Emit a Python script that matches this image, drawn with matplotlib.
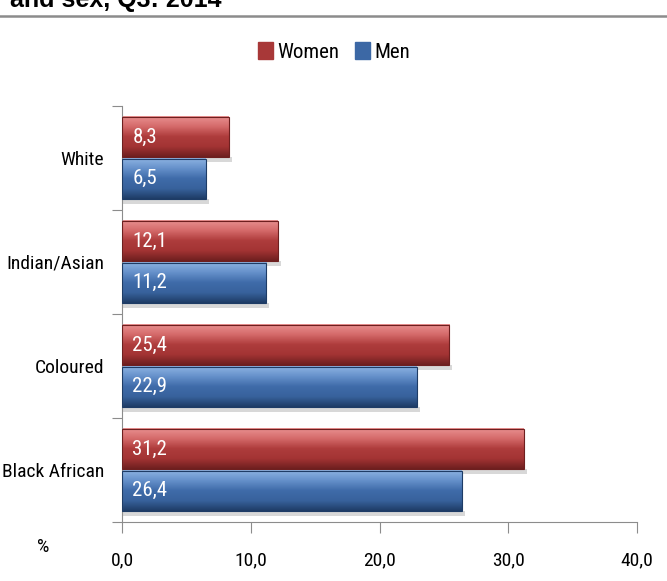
import matplotlib.pyplot as plt
from matplotlib.lines import Line2D
from matplotlib import font_manager
from matplotlib.colors import LinearSegmentedColormap
import numpy as np

# Data
groups = ['Black African', 'Coloured', 'Indian/Asian', 'White']
women = [31.2, 25.4, 12.1, 8.3]
men = [26.4, 22.9, 11.2, 6.5]
xticks = [0, 10, 20, 30, 40]

women_color = '#A83838'
men_color = '#3C68A5'

# pick the narrowest installed font we can find (the original uses a squeezed Calibri)
names = set(f.name for f in font_manager.fontManager.ttflist)
for cand in ['Liberation Sans Narrow', 'Roboto Condensed', 'Open Sans Condensed', 'DejaVu Sans Condensed']:
    if cand in names:
        plt.rcParams['font.family'] = [cand, 'DejaVu Sans']
        break
else:
    plt.rcParams['font.family'] = ['DejaVu Sans']
    plt.rcParams['font.stretch'] = 'condensed'

fs = 14

fig = plt.figure(figsize=(6.67, 5.81), dpi=100)
ax = fig.add_axes([122 / 667, 1 - 522 / 581, (637 - 122) / 667, (522 - 106) / 581])

y = np.arange(len(groups))
h = 0.39
off = 0.2

cm_w = LinearSegmentedColormap.from_list('w', ['#6E1F1F', '#A33434', '#AE3C3C', '#D56A6A', '#E89090'])
cm_m = LinearSegmentedColormap.from_list('m', ['#1E3C66', '#38629C', '#3F6BA9', '#6590CA', '#8DB3E2'])
grad = np.linspace(0, 1, 64).reshape(-1, 1)


def gradient_bar(yc, val, cmap):
    # soft shadow under the bar
    ax.barh(yc - h / 2 - 0.02, val + 0.25, height=0.05, left=0.0, color='#D8D8D8', linewidth=0, zorder=1)
    ax.imshow(grad, cmap=cmap, aspect='auto', origin='lower', interpolation='bilinear',
              extent=(0, val, yc - h / 2, yc + h / 2), zorder=2)
    ax.barh(yc, val, height=h, fill=False, edgecolor=cmap(0.0), linewidth=0.8, zorder=3)


for i in range(len(groups)):
    gradient_bar(y[i] + off, women[i], cm_w)
    gradient_bar(y[i] - off, men[i], cm_m)
    ax.text(0.8, y[i] + off, f'{women[i]:.1f}'.replace('.', ','), color='white',
            va='center', ha='left', fontsize=15, zorder=4)
    ax.text(0.8, y[i] - off, f'{men[i]:.1f}'.replace('.', ','), color='white',
            va='center', ha='left', fontsize=15, zorder=4)

ax.set_xlim(0, 40)
ax.set_ylim(-0.5, len(groups) - 0.5)
ax.set_xticks(xticks)
ax.set_xticklabels([f'{v:.1f}'.replace('.', ',') for v in xticks], fontsize=fs)
ax.tick_params(axis='x', length=8, color='#8C8C8C', pad=13)

ax.set_yticks(np.arange(-0.5, len(groups), 1.0))
ax.set_yticklabels([])
ax.set_yticks(y, minor=True)
ax.set_yticklabels(groups, minor=True, fontsize=fs)
ax.tick_params(axis='y', which='major', length=7, color='#8C8C8C')
ax.tick_params(axis='y', which='minor', length=0, pad=13)

for s in ['top', 'right']:
    ax.spines[s].set_visible(False)
ax.spines['left'].set_color('#8C8C8C')
ax.spines['bottom'].set_color('#8C8C8C')

fig.text(43 / 667, 1 - 547 / 581, '%', fontsize=fs, ha='center', va='center')

handles = [plt.Rectangle((0, 0), 1, 1, color=women_color), plt.Rectangle((0, 0), 1, 1, color=men_color)]
fig.legend(handles, ['Women', 'Men'], loc='center', bbox_to_anchor=(334 / 667, 1 - 52 / 581), ncol=2,
           frameon=False, fontsize=15, handlelength=0.7, handleheight=0.9,
           handletextpad=0.2, columnspacing=0.8)

# title remnant cut at the top of the image
fig.text(10 / 667, 1 - 7 / 581, 'and sex, Q3: 2014', fontsize=18, fontweight='bold',
         family='Liberation Sans', va='baseline', ha='left')
fig.add_artist(Line2D([0, 1], [1 - 16 / 581, 1 - 16 / 581], color='#8C8C8C', linewidth=1.8))

plt.savefig('out.png', dpi=100)
